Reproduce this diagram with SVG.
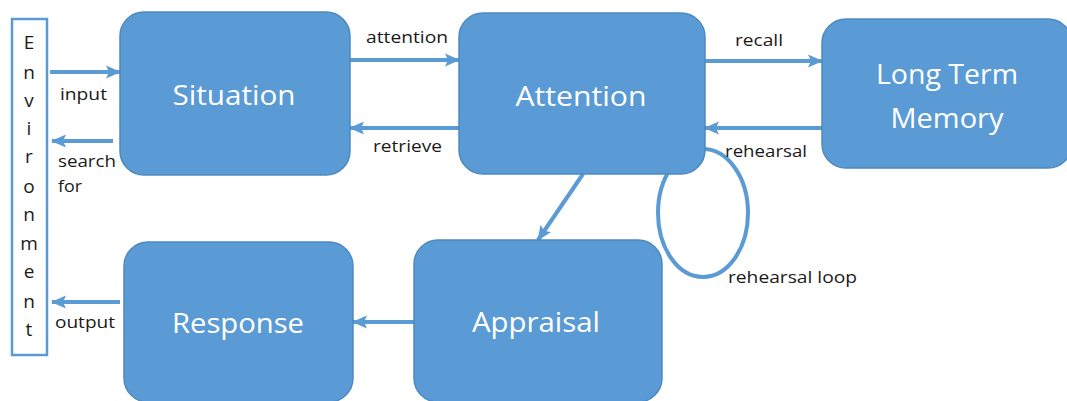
<svg xmlns="http://www.w3.org/2000/svg" width="1067" height="401" viewBox="0 0 1067 401">
  <defs>
    <marker id="arrow" markerUnits="userSpaceOnUse" markerWidth="15" markerHeight="15" viewBox="0 0 15 15" refX="14" refY="7.5" orient="auto">
      <path d="M0,1 L15,7.5 L0,14 L3,7.5 Z" fill="#5B9BD5"/>
    </marker>
    <style>
      .box { fill: #5B9BD5; stroke: #4F89C0; stroke-width: 1.5; }
      .title { fill: #ffffff; font-family: "Open Sans", "Liberation Sans", sans-serif; font-size: 28px; text-anchor: middle; }
      .lbl { fill: #1a1a1a; font-family: "Open Sans", "Liberation Sans", sans-serif; font-size: 17px; }
      .env { fill: #1a1a1a; font-family: "Open Sans", "Liberation Sans", sans-serif; font-size: 19px; text-anchor: middle; }
      .conn { stroke: #5B9BD5; stroke-width: 4; fill: none; }
    </style>
  </defs>
  <rect width="1067" height="401" fill="#ffffff"/>

  <!-- environment column -->
  <g id="environment">
    <rect x="12" y="19" width="35" height="336" fill="#ffffff" stroke="#5B9BD5" stroke-width="2.5"/>
    <text class="env" x="29" y="49">E</text>
    <text class="env" x="29" y="79">n</text>
    <text class="env" x="29" y="107">v</text>
    <text class="env" x="29" y="135">i</text>
    <text class="env" x="29" y="163">r</text>
    <text class="env" x="29" y="193">o</text>
    <text class="env" x="29" y="221">n</text>
    <text class="env" x="29" y="250">m</text>
    <text class="env" x="29" y="278">e</text>
    <text class="env" x="29" y="308">n</text>
    <text class="env" x="29" y="336">t</text>
  </g>

  <!-- loop drawn first so the Attention box sits over it -->
  <g id="connectors">
    <ellipse class="conn" cx="703" cy="213" rx="45" ry="64" stroke-width="3"/>
    <line class="conn" x1="50" y1="72" x2="120" y2="72" marker-end="url(#arrow)"/>
    <line class="conn" x1="113" y1="141" x2="52" y2="141" marker-end="url(#arrow)"/>
    <line class="conn" x1="120" y1="302" x2="52" y2="302" marker-end="url(#arrow)"/>
    <line class="conn" x1="350" y1="60" x2="459" y2="60" marker-end="url(#arrow)"/>
    <line class="conn" x1="459" y1="128" x2="350" y2="128" marker-end="url(#arrow)"/>
    <line class="conn" x1="705" y1="61" x2="822" y2="61" marker-end="url(#arrow)"/>
    <line class="conn" x1="822" y1="128" x2="705" y2="128" marker-end="url(#arrow)"/>
    <line class="conn" x1="583" y1="174" x2="538" y2="240" marker-end="url(#arrow)"/>
    <line class="conn" x1="414" y1="322" x2="353" y2="322" marker-end="url(#arrow)"/>
  </g>

  <g id="situation">
    <rect class="box" x="120" y="12" width="230" height="163" rx="24"/>
    <text class="title" x="234" y="105" textLength="123" lengthAdjust="spacingAndGlyphs">Situation</text>
  </g>

  <g id="attention">
    <rect class="box" x="459" y="13" width="246" height="161" rx="24"/>
    <text class="title" x="581" y="106" textLength="131" lengthAdjust="spacingAndGlyphs">Attention</text>
  </g>

  <g id="long-term-memory">
    <rect class="box" x="822" y="19" width="250" height="149" rx="24"/>
    <text class="title" x="947" y="84" textLength="142" lengthAdjust="spacingAndGlyphs">Long Term</text>
    <text class="title" x="947" y="128" textLength="113" lengthAdjust="spacingAndGlyphs">Memory</text>
  </g>

  <g id="response">
    <rect class="box" x="124" y="242" width="229" height="160" rx="24"/>
    <text class="title" x="238" y="333" textLength="132" lengthAdjust="spacingAndGlyphs">Response</text>
  </g>

  <g id="appraisal">
    <rect class="box" x="414" y="240" width="248" height="162" rx="24"/>
    <text class="title" x="536" y="332" textLength="128" lengthAdjust="spacingAndGlyphs">Appraisal</text>
  </g>

  <g id="labels">
    <text class="lbl" x="60" y="100" textLength="47" lengthAdjust="spacingAndGlyphs">input</text>
    <text class="lbl" x="58" y="167" textLength="58" lengthAdjust="spacingAndGlyphs">search</text>
    <text class="lbl" x="58" y="192" textLength="24" lengthAdjust="spacingAndGlyphs">for</text>
    <text class="lbl" x="55" y="328" textLength="60" lengthAdjust="spacingAndGlyphs">output</text>
    <text class="lbl" x="366" y="43" textLength="82" lengthAdjust="spacingAndGlyphs">attention</text>
    <text class="lbl" x="373" y="152" textLength="69" lengthAdjust="spacingAndGlyphs">retrieve</text>
    <text class="lbl" x="735" y="46" textLength="48" lengthAdjust="spacingAndGlyphs">recall</text>
    <text class="lbl" x="725" y="157" textLength="82" lengthAdjust="spacingAndGlyphs">rehearsal</text>
    <text class="lbl" x="728" y="283" textLength="129" lengthAdjust="spacingAndGlyphs">rehearsal loop</text>
  </g>
</svg>
